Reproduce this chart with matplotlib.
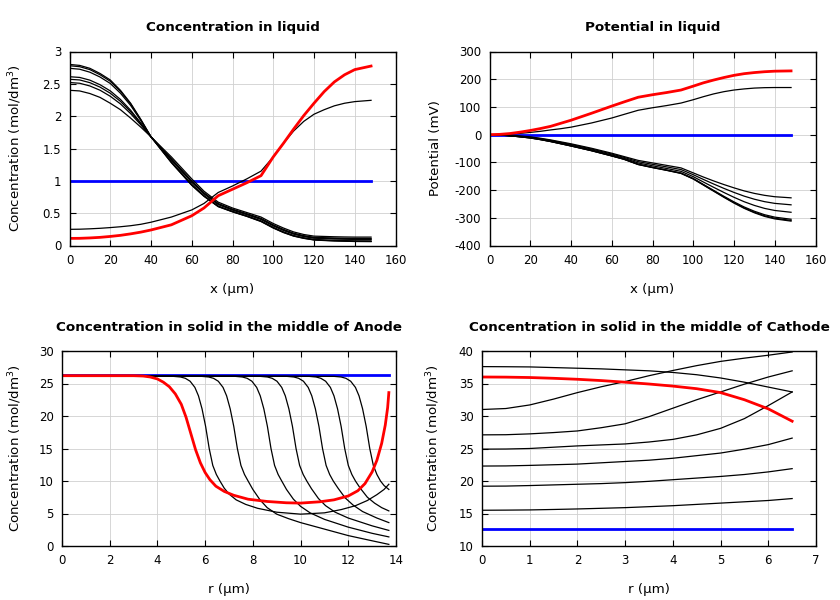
import matplotlib
matplotlib.use("Agg")
import matplotlib.pyplot as plt

plt.rcParams['font.family'] = ['DejaVu Sans']
plt.rcParams['axes.unicode_minus'] = False

# ---------------- Liquid phase (x in um) ----------------
x_liq = [0, 5, 10, 15, 20, 25, 30, 35, 40, 50, 60, 66, 73, 80, 87, 94, 100, 105, 110, 115, 120, 125, 130, 135, 140, 148]

conc_liq_init = [1.0, 1.0]
conc_liq_init_x = [0, 148]

conc_liq_1 = [2.80, 2.785, 2.74, 2.66, 2.56, 2.40, 2.20, 1.95, 1.68, 1.28, 0.93, 0.76, 0.60, 0.52, 0.45, 0.37, 0.27, 0.20, 0.145, 0.11, 0.085, 0.077, 0.07, 0.066, 0.062, 0.06]
conc_liq_2 = [2.78, 2.765, 2.72, 2.64, 2.54, 2.385, 2.19, 1.944, 1.68, 1.285, 0.935, 0.764, 0.604, 0.523, 0.453, 0.374, 0.274, 0.204, 0.148, 0.113, 0.088, 0.08, 0.073, 0.069, 0.065, 0.064]
conc_liq_3 = [2.74, 2.726, 2.68, 2.605, 2.506, 2.355, 2.166, 1.932, 1.68, 1.294, 0.945, 0.772, 0.61, 0.529, 0.459, 0.381, 0.281, 0.211, 0.155, 0.119, 0.094, 0.086, 0.08, 0.076, 0.072, 0.071]
conc_liq_4 = [2.61, 2.599, 2.557, 2.486, 2.391, 2.259, 2.092, 1.894, 1.68, 1.322, 0.977, 0.798, 0.633, 0.548, 0.478, 0.403, 0.303, 0.233, 0.176, 0.138, 0.113, 0.107, 0.101, 0.097, 0.094, 0.093]
conc_liq_5 = [2.57, 2.56, 2.518, 2.449, 2.355, 2.229, 2.069, 1.882, 1.68, 1.331, 0.987, 0.806, 0.64, 0.554, 0.484, 0.41, 0.31, 0.24, 0.182, 0.144, 0.119, 0.113, 0.107, 0.104, 0.101, 0.1]
conc_liq_6 = [2.52, 2.509, 2.467, 2.401, 2.308, 2.19, 2.039, 1.866, 1.68, 1.343, 1.0, 0.816, 0.649, 0.562, 0.492, 0.419, 0.319, 0.249, 0.191, 0.152, 0.127, 0.121, 0.116, 0.112, 0.11, 0.109]
conc_liq_7 = [2.40, 2.39, 2.35, 2.29, 2.20, 2.10, 1.97, 1.83, 1.68, 1.37, 1.03, 0.84, 0.67, 0.58, 0.51, 0.44, 0.34, 0.27, 0.21, 0.17, 0.145, 0.14, 0.135, 0.132, 0.13, 0.13]
conc_liq_8 = [0.25, 0.252, 0.258, 0.266, 0.277, 0.29, 0.306, 0.328, 0.36, 0.44, 0.55, 0.65, 0.82, 0.92, 1.03, 1.15, 1.37, 1.58, 1.77, 1.92, 2.03, 2.10, 2.16, 2.20, 2.225, 2.245]
conc_liq_final = [0.11, 0.111, 0.117, 0.126, 0.14, 0.157, 0.18, 0.207, 0.24, 0.32, 0.46, 0.58, 0.77, 0.87, 0.97, 1.08, 1.37, 1.58, 1.80, 2.01, 2.20, 2.38, 2.53, 2.64, 2.72, 2.775]

pot_init = [0, 0]
pot_init_x = [0, 148]
pot_1 = [0, -1, -3, -5, -8, -13, -19, -26, -33, -49, -67, -79, -93, -102, -111, -120, -138, -153, -167, -180, -192, -203, -212, -219, -224, -228]
pot_2 = [0, -1.2, -3.3, -5.9, -9.2, -14.5, -20.8, -28.1, -35.4, -51.7, -70, -82, -97.5, -107.1, -116.4, -126, -144.6, -161.7, -178.1, -193.8, -208.5, -221.9, -233, -241.8, -248, -253.2]
pot_3 = [0, -1.3, -3.6, -6.9, -10.5, -16.1, -22.7, -30.3, -38, -54.6, -73.2, -85.2, -102.3, -112.5, -122.2, -132.4, -151.6, -171, -190, -208.5, -226.1, -242.1, -255.4, -266.1, -273.6, -280.1]
pot_4 = [0, -1.5, -3.9, -7.8, -11.7, -17.6, -24.5, -32.4, -40.4, -57.3, -76.2, -88.2, -106.8, -117.6, -127.6, -138.4, -158.2, -179.7, -201, -222.3, -242.6, -261, -276.4, -288.9, -297.6, -305.3]
pot_5 = [0, -1.5, -4, -7.9, -11.9, -17.9, -24.8, -32.8, -40.8, -57.7, -76.7, -88.7, -107.6, -118.5, -128.5, -139.4, -159.3, -181.1, -202.9, -224.6, -245.4, -264.1, -279.9, -292.7, -301.6, -309.5]
pot_6 = [0, -1.5, -4, -8, -12, -18, -25, -33, -41, -58, -77, -89, -108, -119, -129, -140, -160, -182, -204, -226, -247, -266, -282, -295, -304, -312]
pot_7 = [0, 0.5, 2, 4.5, 8, 12, 17, 21.5, 27, 42, 60, 73, 88, 97, 105, 114, 126, 137, 147, 155, 161, 165, 168, 169.5, 170, 170]
pot_final = [0, 1, 4, 9, 15, 22, 30, 41, 52, 77, 103, 118, 135, 144, 152, 161, 175, 187, 197, 206, 214, 220, 224, 227, 229, 230]

# ---------------- Anode particle (r in um) ----------------
an_init_r = [0, 13.7]
an_init_c = [26.25, 26.25]
an_1_r = [0, 4.67, 4.97, 5.17, 5.37, 5.57, 5.72, 5.87, 6.02, 6.17, 6.32, 6.47, 6.62, 6.8, 7.0, 7.3, 7.7, 8.2, 9.0, 10.0, 11.0, 11.7, 12.3, 12.8, 13.2, 13.5, 13.7]
an_1_c = [26.1, 26.1, 26.0, 25.8, 25.35, 24.4, 23.1, 21.1, 18.4, 15.0, 12.4, 11.0, 10.0, 8.9, 8.0, 7.1, 6.4, 5.8, 5.2, 4.9, 5.1, 5.6, 6.2, 7.0, 7.9, 8.7, 9.5]
an_2_r = [0, 5.85, 6.15, 6.35, 6.55, 6.75, 6.9, 7.05, 7.2, 7.35, 7.5, 7.65, 7.8, 8.0, 8.3, 8.6, 9.0, 9.5, 10.0, 11.0, 12.0, 13.0, 13.7]
an_2_c = [26.1, 26.1, 26.0, 25.8, 25.35, 24.4, 23.1, 21.1, 18.4, 15.0, 12.4, 11.0, 10.0, 8.7, 7.1, 5.9, 4.9, 4.2, 3.6, 2.6, 1.6, 0.8, 0.25]
an_3_r = [0, 7.26, 7.56, 7.76, 7.96, 8.16, 8.31, 8.46, 8.61, 8.76, 8.91, 9.06, 9.21, 9.41, 9.7, 10.0, 10.4, 11.0, 12.0, 13.0, 13.7]
an_3_c = [26.1, 26.1, 26.0, 25.8, 25.35, 24.4, 23.1, 21.1, 18.4, 15.0, 12.4, 11.0, 10.0, 8.7, 7.2, 6.1, 5.1, 4.1, 2.9, 1.95, 1.4]
an_4_r = [0, 8.31, 8.61, 8.81, 9.01, 9.21, 9.36, 9.51, 9.66, 9.81, 9.96, 10.11, 10.26, 10.46, 10.75, 11.05, 11.45, 12.0, 13.0, 13.7]
an_4_c = [26.1, 26.1, 26.0, 25.8, 25.35, 24.4, 23.1, 21.1, 18.4, 15.0, 12.4, 11.0, 10.0, 8.8, 7.3, 6.2, 5.2, 4.3, 3.1, 2.4]
an_5_r = [0, 9.42, 9.72, 9.92, 10.12, 10.32, 10.47, 10.62, 10.77, 10.92, 11.07, 11.22, 11.37, 11.57, 11.87, 12.2, 12.6, 13.2, 13.7]
an_5_c = [26.1, 26.1, 26.0, 25.8, 25.35, 24.4, 23.1, 21.1, 18.4, 15.0, 12.4, 11.0, 10.0, 8.9, 7.4, 6.3, 5.3, 4.3, 3.6]
an_6_r = [0, 10.35, 10.65, 10.85, 11.05, 11.25, 11.4, 11.55, 11.7, 11.85, 12.0, 12.15, 12.3, 12.5, 12.8, 13.1, 13.4, 13.7]
an_6_c = [26.1, 26.1, 26.0, 25.8, 25.35, 24.4, 23.1, 21.1, 18.4, 15.0, 12.4, 11.0, 10.0, 8.9, 7.5, 6.6, 5.9, 5.4]
an_7_r = [0, 11.4, 11.7, 11.9, 12.1, 12.3, 12.45, 12.6, 12.75, 12.9, 13.05, 13.2, 13.35, 13.5, 13.7]
an_7_c = [26.1, 26.1, 26.0, 25.8, 25.35, 24.4, 23.1, 21.1, 18.4, 15.0, 12.4, 11.0, 10.0, 9.3, 8.7]
an_final_r = [0, 3.0, 3.4, 3.7, 4.0, 4.25, 4.5, 4.75, 5.0, 5.2, 5.4, 5.6, 5.8, 6.0, 6.2, 6.45, 6.8, 7.2, 7.8, 8.6, 9.4, 10.0, 10.8, 11.4, 12.0, 12.4, 12.7, 13.0, 13.2, 13.4, 13.55, 13.65, 13.7]
an_final_c = [26.2, 26.2, 26.15, 26.0, 25.7, 25.2, 24.5, 23.4, 21.8, 19.8, 17.3, 14.8, 12.8, 11.3, 10.2, 9.2, 8.4, 7.8, 7.2, 6.85, 6.65, 6.6, 6.8, 7.1, 7.7, 8.5, 9.6, 11.4, 13.2, 15.8, 18.6, 21.3, 23.6]

# ---------------- Cathode particle (r in um) ----------------
ca_r = [0, 0.5, 1, 1.5, 2, 2.5, 3, 3.5, 4, 4.5, 5, 5.5, 6, 6.5]
ca_init_r = [0, 6.5]
ca_init_c = [12.6, 12.6]
ca_1 = [37.6, 37.58, 37.55, 37.45, 37.35, 37.25, 37.1, 36.95, 36.7, 36.35, 35.85, 35.2, 34.45, 33.7]
ca_2 = [31.0, 31.15, 31.7, 32.6, 33.6, 34.5, 35.3, 36.2, 37.0, 37.75, 38.4, 38.9, 39.35, 39.85]
ca_3 = [27.1, 27.12, 27.25, 27.45, 27.7, 28.2, 28.8, 29.9, 31.2, 32.5, 33.7, 34.9, 36.0, 36.95]
ca_4 = [24.9, 24.92, 25.0, 25.2, 25.4, 25.55, 25.7, 26.0, 26.4, 27.1, 28.1, 29.6, 31.6, 33.7]
ca_5 = [22.3, 22.32, 22.4, 22.5, 22.6, 22.8, 23.0, 23.2, 23.5, 23.9, 24.3, 24.9, 25.6, 26.6]
ca_6 = [19.2, 19.22, 19.3, 19.4, 19.5, 19.6, 19.75, 19.95, 20.2, 20.45, 20.7, 21.0, 21.4, 21.9]
ca_7 = [15.5, 15.52, 15.55, 15.62, 15.7, 15.8, 15.9, 16.05, 16.2, 16.4, 16.6, 16.8, 17.0, 17.3]
ca_final = [36.0, 35.98, 35.92, 35.8, 35.65, 35.45, 35.2, 34.92, 34.6, 34.2, 33.6, 32.5, 31.1, 29.2]

# ---------------- Ticks / labels ----------------
xt_liq = [0, 20, 40, 60, 80, 100, 120, 140, 160]
yt_cl = [0, 0.5, 1, 1.5, 2, 2.5, 3]
yt_cl_lab = ["0", "0.5", "1", "1.5", "2", "2.5", "3"]
yt_pot = [-400, -300, -200, -100, 0, 100, 200, 300]
xt_an = [0, 2, 4, 6, 8, 10, 12, 14]
yt_an = [0, 5, 10, 15, 20, 25, 30]
xt_ca = [0, 1, 2, 3, 4, 5, 6, 7]
yt_ca = [10, 15, 20, 25, 30, 35, 40]

titles = ["Concentration in liquid", "Potential in liquid",
          "Concentration in solid in the middle of Anode",
          "Concentration in solid in the middle of Cathode"]

W, H = 840, 600
fig = plt.figure(figsize=(8.4, 6.0), dpi=100)

def make_ax(l, t, r, b):
    return fig.add_axes([l / W, 1 - b / H, (r - l) / W, (b - t) / H])

ax1 = make_ax(69.5, 51.5, 395.5, 245.5)
ax2 = make_ax(489.5, 51.5, 815.5, 245.5)
ax3 = make_ax(62, 351, 396, 546)
ax4 = make_ax(482, 351, 816, 546)

FS = 8.5
BLK = dict(color='black', lw=0.9)
BLUE = dict(color='#0000ff', lw=2.0)
RED = dict(color='#ff0000', lw=2.0)

def style(ax, title, xlabel, ylabel, ylab_x):
    ax.set_title(title, fontsize=9.7, fontweight='bold', pad=14.5)
    ax.set_xlabel(xlabel, fontsize=9.6, labelpad=11.5)
    ax.set_ylabel(ylabel, fontsize=9.6)
    ax.yaxis.set_label_coords(ylab_x, 0.5)
    ax.grid(True, color='#d0d0d0', lw=0.6)
    ax.set_axisbelow(True)
    ax.tick_params(direction='in', length=4, width=0.8, top=True, right=True,
                   labelsize=FS, pad=6)
    for s in ax.spines.values():
        s.set_linewidth(1.0)

# Panel 1
ax1.plot(conc_liq_init_x, conc_liq_init, **BLUE)
for c in [conc_liq_1, conc_liq_2, conc_liq_3, conc_liq_4, conc_liq_5, conc_liq_6, conc_liq_7, conc_liq_8]:
    ax1.plot(x_liq, c, **BLK)
ax1.plot(x_liq, conc_liq_final, **RED)
ax1.set_xlim(0, 160)
ax1.set_ylim(0, 3)
ax1.set_xticks(xt_liq)
ax1.set_yticks(yt_cl)
ax1.set_yticklabels(yt_cl_lab)
style(ax1, titles[0], "x (\u03bcm)", "Concentration (mol/dm$^3$)", -0.141)

# Panel 2
ax2.plot(pot_init_x, pot_init, **BLUE)
for c in [pot_1, pot_2, pot_3, pot_4, pot_5, pot_6, pot_7]:
    ax2.plot(x_liq, c, **BLK)
ax2.plot(x_liq, pot_final, **RED)
ax2.set_xlim(0, 160)
ax2.set_ylim(-400, 300)
ax2.set_xticks(xt_liq)
ax2.set_yticks(yt_pot)
style(ax2, titles[1], "x (\u03bcm)", "Potential (mV)", -0.145)

# Panel 3
ax3.plot(an_init_r, an_init_c, **BLUE)
for rr, cc in [(an_1_r, an_1_c), (an_2_r, an_2_c), (an_3_r, an_3_c), (an_4_r, an_4_c),
               (an_5_r, an_5_c), (an_6_r, an_6_c), (an_7_r, an_7_c)]:
    ax3.plot(rr, cc, **BLK)
ax3.plot(an_final_r, an_final_c, **RED)
ax3.set_xlim(0, 14)
ax3.set_ylim(0, 30)
ax3.set_xticks(xt_an)
ax3.set_yticks(yt_an)
style(ax3, titles[2], "r (\u03bcm)", "Concentration (mol/dm$^3$)", -0.115)

# Panel 4
ax4.plot(ca_init_r, ca_init_c, **BLUE)
for c in [ca_1, ca_2, ca_3, ca_4, ca_5, ca_6, ca_7]:
    ax4.plot(ca_r, c, **BLK)
ax4.plot(ca_r, ca_final, **RED)
ax4.set_xlim(0, 7)
ax4.set_ylim(10, 40)
ax4.set_xticks(xt_ca)
ax4.set_yticks(yt_ca)
style(ax4, titles[3], "r (\u03bcm)", "Concentration (mol/dm$^3$)", -0.120)

fig.savefig("out.png", dpi=100)
